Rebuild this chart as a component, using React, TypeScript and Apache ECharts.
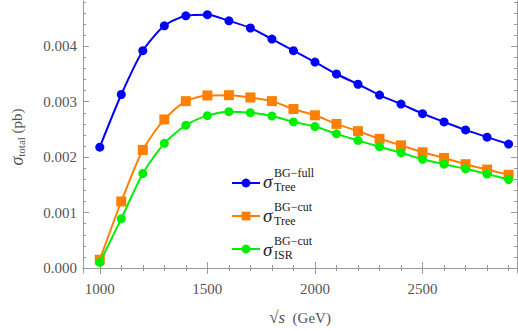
import React, { useEffect, useRef } from "react";
import * as echarts from "echarts";

const energies = [1000, 1100, 1200, 1300, 1400, 1500, 1600, 1700, 1800, 1900, 2000, 2100, 2200, 2300, 2400, 2500, 2600, 2700, 2800, 2900];
const treeFull = [0.00218, 0.00313, 0.00392, 0.00437, 0.00455, 0.00457, 0.00446, 0.00433, 0.00413, 0.00392, 0.003715, 0.0035, 0.003315, 0.00312, 0.002957, 0.002785, 0.002635, 0.002492, 0.002361, 0.002236];
const treeCut = [0.00015, 0.0012, 0.00213, 0.00268, 0.00301, 0.003113, 0.003118, 0.003077, 0.003011, 0.002868, 0.002755, 0.0026, 0.002469, 0.002331, 0.002213, 0.002088, 0.001986, 0.001873, 0.001776, 0.001682];
const isrCut = [0.0001, 0.00089, 0.001705, 0.00225, 0.002576, 0.002749, 0.002821, 0.002803, 0.002742, 0.002635, 0.002553, 0.00242, 0.002302, 0.002188, 0.00208, 0.001962, 0.001873, 0.001789, 0.001694, 0.001597];

const xMajor = [1000, 1500, 2000, 2500];
const xMinor = [1000, 1100, 1200, 1300, 1400, 1500, 1600, 1700, 1800, 1900, 2000, 2100, 2200, 2300, 2400, 2500, 2600, 2700, 2800, 2900];
const yMajor = [0, 0.001, 0.002, 0.003, 0.004];
const yMinor = [0, 0.0002, 0.0004, 0.0006, 0.0008, 0.001, 0.0012, 0.0014, 0.0016, 0.0018, 0.002, 0.0022, 0.0024, 0.0026, 0.0028, 0.003, 0.0032, 0.0034, 0.0036, 0.0038, 0.004, 0.0042, 0.0044, 0.0046, 0.0048];

const seriesNames = ["Tree BG-full", "Tree BG-cut", "ISR BG-cut"];

const X_MIN = 922;
const X_MAX = 2939;
const Y_MIN = -0.00009;
const Y_MAX = 0.004817;

const FRAME = "#9a9a9a";
const LABEL = "#555555";
const SERIF = "'Liberation Serif', 'DejaVu Serif', serif";

export default function App() {
  const ref = useRef<HTMLDivElement>(null);
  useEffect(() => {
    document.body.style.margin = "0";
    const chart = echarts.init(ref.current!, null, { renderer: "svg" });
    const frameLine = { show: true, lineStyle: { color: FRAME, width: 1 } };
    const mkX = (pos: string, vals: number[], len: number, labels: boolean, line: boolean) => ({
      type: "value",
      min: X_MIN,
      max: X_MAX,
      position: pos,
      axisLine: line ? frameLine : { show: false },
      axisTick: { show: true, inside: true, length: len, customValues: vals, lineStyle: { color: FRAME } },
      axisLabel: labels
        ? {
            show: true,
            customValues: xMajor,
            color: LABEL,
            fontFamily: SERIF,
            fontSize: 15,
            margin: 8,
            formatter: (v: number) => String(Math.round(v)),
          }
        : { show: false },
      splitLine: { show: false },
    });
    const mkY = (pos: string, vals: number[], len: number, labels: boolean, line: boolean) => ({
      type: "value",
      min: Y_MIN,
      max: Y_MAX,
      position: pos,
      axisLine: line ? frameLine : { show: false },
      axisTick: { show: true, inside: true, length: len, customValues: vals, lineStyle: { color: FRAME } },
      axisLabel: labels
        ? {
            show: true,
            customValues: yMajor,
            color: LABEL,
            fontFamily: SERIF,
            fontSize: 15,
            margin: 6,
            formatter: (v: number) => v.toFixed(3),
          }
        : { show: false },
      splitLine: { show: false },
    });
    const xMain: any = mkX("bottom", xMajor, 6, true, true);
    xMain.name = "{r|√}{s|s}{n|  (GeV)}";
    xMain.nameLocation = "middle";
    xMain.nameGap = 36;
    xMain.nameTextStyle = {
      rich: {
        r: { fontFamily: SERIF, fontSize: 17, color: LABEL },
        s: { fontFamily: SERIF, fontSize: 17, fontStyle: "italic", color: LABEL },
        n: { fontFamily: SERIF, fontSize: 15, color: LABEL },
      },
    };
    const yMain: any = mkY("left", yMajor, 6, true, true);
    yMain.name = "{s|σ}{sub|total}{n| (pb)}";
    yMain.nameLocation = "middle";
    yMain.nameGap = 57;
    yMain.nameTextStyle = {
      rich: {
        s: { fontFamily: SERIF, fontSize: 18, fontStyle: "italic", color: LABEL },
        sub: { fontFamily: SERIF, fontSize: 11, color: LABEL, padding: [7, 0, 0, 0] },
        n: { fontFamily: SERIF, fontSize: 15, color: LABEL },
      },
    };

    const symSeries = (name: string, data: number[], color: string, symbol: string, size: number, z: number) => ({
      name,
      type: "line",
      xAxisIndex: 0,
      yAxisIndex: 0,
      data: energies.map((e, i) => [e, data[i]]),
      smooth: 0.25,
      symbol,
      symbolSize: size,
      showAllSymbol: true,
      z,
      lineStyle: { color, width: 2 },
      itemStyle: { color },
    });

    const legendText = (top: number, sup: string, sub: string) => ({
      type: "group",
      left: 263,
      top,
      children: [
        { type: "text", x: 0, y: 5, style: { text: "σ", font: `italic 19px ${SERIF}`, fill: "#222" } },
        { type: "text", x: 11, y: 0, style: { text: sup, font: `12px ${SERIF}`, fill: "#222" } },
        { type: "text", x: 11, y: 14, style: { text: sub, font: `12px ${SERIF}`, fill: "#222" } },
      ],
    });

    chart.setOption({
      animation: false,
      grid: { left: 73, right: 1, top: 1, bottom: 56, containLabel: false },
      xAxis: [
        xMain,
        mkX("bottom", xMinor, 3, false, false),
        mkX("top", xMajor, 6, false, true),
        mkX("top", xMinor, 3, false, false),
      ],
      yAxis: [
        yMain,
        mkY("left", yMinor, 3, false, false),
        mkY("right", yMajor, 6, false, true),
        mkY("right", yMinor, 3, false, false),
      ],
      legend: {
        left: 226,
        top: 173,
        orient: "vertical",
        itemWidth: 28,
        itemHeight: 11,
        itemGap: 23,
        formatter: () => " ",
        textStyle: { fontSize: 10 },
        selectedMode: false,
      },
      series: [
        symSeries(seriesNames[0], treeFull, "#0000ff", "circle", 9, 2),
        symSeries(seriesNames[1], treeCut, "#ff8000", "rect", 10, 3),
        symSeries(seriesNames[2], isrCut, "#00ee00", "circle", 9, 4),
      ],
      graphic: [
        legendText(167, "BG−full", "Tree"),
        legendText(201, "BG−cut", "Tree"),
        legendText(235, "BG−cut", "ISR"),
        {
          type: "line",
          left: 0,
          top: 0,
          z: 10,
          shape: { x1: 0, y1: 0, x2: 0, y2: 0 },
          silent: true,
          invisible: true,
        },
      ],
    });
    return () => chart.dispose();
  }, []);
  return <div ref={ref} style={{ width: 518, height: 331 }} />;
}
